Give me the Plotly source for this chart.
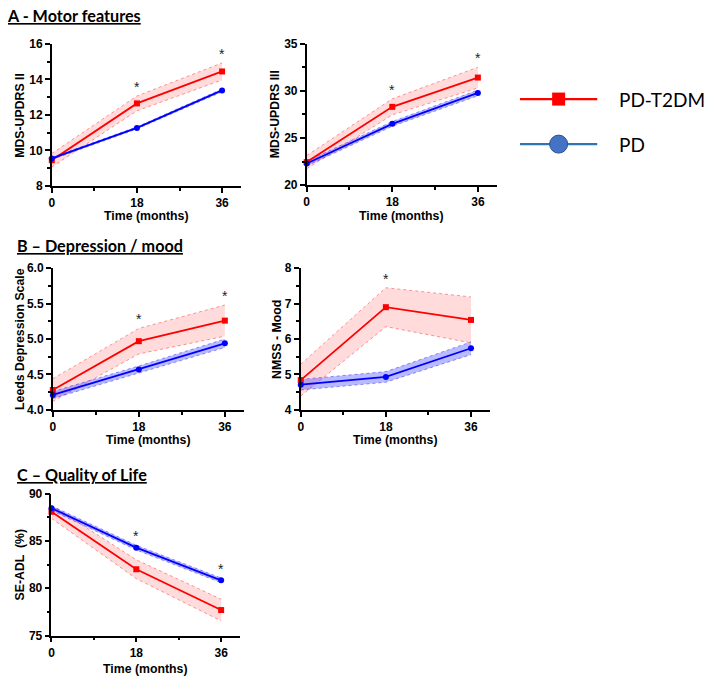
import plotly.graph_objects as go

# ---------------- data ----------------
months = [0, 18, 36]
group_names = ["PD-T2DM", "PD"]

motor2_t2dm = [9.45, 12.65, 14.45]
motor2_t2dm_err = [0.38, 0.42, 0.48]
motor2_pd = [9.55, 11.27, 13.38]
motor2_pd_err = [0.06, 0.06, 0.08]
motor2_sig = [False, True, True]

motor3_t2dm = [22.45, 28.3, 31.4]
motor3_t2dm_err = [0.7, 0.85, 1.1]
motor3_pd = [22.3, 26.5, 29.77]
motor3_pd_err = [0.25, 0.25, 0.3]
motor3_sig = [False, True, True]

leeds_t2dm = [4.28, 4.97, 5.26]
leeds_t2dm_err = [0.16, 0.18, 0.22]
leeds_pd = [4.21, 4.57, 4.94]
leeds_pd_err = [0.05, 0.05, 0.06]
leeds_sig = [False, True, True]

nmss_t2dm = [4.84, 6.9, 6.54]
nmss_t2dm_err = [0.45, 0.55, 0.65]
nmss_pd = [4.71, 4.93, 5.74]
nmss_pd_err = [0.15, 0.15, 0.18]
nmss_sig = [False, True, False]

seadl_t2dm = [88.07, 82.0, 77.69]
seadl_t2dm_err = [0.7, 1.0, 1.15]
seadl_pd = [88.45, 84.28, 80.83]
seadl_pd_err = [0.25, 0.25, 0.25]
seadl_sig = [False, True, True]

panel_titles = ["A - Motor features", "B \u2013 Depression / mood", "C \u2013 Quality of Life"]
x_title = "Time (months)"

# ---------------- layout helpers ----------------
W, H = 709, 682


def xd(a, b):
    return [a / W, b / W]


def yd(top, bottom):
    return [1 - bottom / H, 1 - top / H]


RED = "#FF0000"
BLUE = "#0000FF"
RED_FILL = "rgba(255,0,0,0.14)"
BLUE_FILL = "rgba(40,40,255,0.32)"
TICKFONT = dict(family="Liberation Sans", size=12, color="black", weight="bold")
TITLEFONT = dict(family="Liberation Sans", size=12.3, color="black", weight="bold")

panels = [
    (motor2_t2dm, motor2_t2dm_err, motor2_pd, motor2_pd_err, motor2_sig, "MDS-UPDRS II",
     [8, 16], 2, 1, (49, 239, 37.7, 182.7), 17, None, 30.5),
    (motor3_t2dm, motor3_t2dm_err, motor3_pd, motor3_pd_err, motor3_sig, "MDS-UPDRS III",
     [20, 35], 5, 2.5, (305, 496, 37.3, 182), 274, None, 31),
    (leeds_t2dm, leeds_t2dm_err, leeds_pd, leeds_pd_err, leeds_sig, "Leeds Depression Scale",
     [4, 6], 0.5, 0.25, (50, 242, 266.7, 411.3), 17, ".1f", 30.7),
    (nmss_t2dm, nmss_t2dm_err, nmss_pd, nmss_pd_err, nmss_sig, "NMSS - Mood",
     [4, 8], 1, 0.5, (299, 489, 266.7, 411.3), 275, None, 30.7),
    (seadl_t2dm, seadl_t2dm_err, seadl_pd, seadl_pd_err, seadl_sig, "SE-ADL  (%)",
     [75, 90], 5, 2.5, (48.7, 238, 496.7, 641.7), 17, None, 33.8),
]

fig = go.Figure()
annotations = []

for i, (t2, t2e, pd_, pde, sig, ytitle, yr, dt, mn, box, ytx, fmt, xto) in enumerate(panels):
    n = "" if i == 0 else str(i + 1)
    xa, ya = "x" + n, "y" + n
    left, right, top, bottom = box

    def band(vals, errs, line_col, fill_col):
        lo = [v - e for v, e in zip(vals, errs)]
        hi = [v + e for v, e in zip(vals, errs)]
        fig.add_trace(go.Scatter(x=months, y=lo, xaxis=xa, yaxis=ya, mode="lines",
                                 line=dict(color=line_col, width=0.8, dash="dot"),
                                 showlegend=False, hoverinfo="skip"))
        fig.add_trace(go.Scatter(x=months, y=hi, xaxis=xa, yaxis=ya, mode="lines",
                                 line=dict(color=line_col, width=0.8, dash="dot"),
                                 fill="tonexty", fillcolor=fill_col,
                                 showlegend=False, hoverinfo="skip"))
        return hi

    hi_t2 = band(t2, t2e, "rgba(255,0,0,0.5)", RED_FILL)
    hi_pd = band(pd_, pde, "rgba(0,0,255,0.5)", BLUE_FILL)

    fig.add_trace(go.Scatter(x=months, y=t2, xaxis=xa, yaxis=ya, mode="lines+markers",
                             line=dict(color=RED, width=1.8),
                             marker=dict(symbol="square", size=6, color=RED),
                             cliponaxis=False, showlegend=False, name=group_names[0]))
    fig.add_trace(go.Scatter(x=months, y=pd_, xaxis=xa, yaxis=ya, mode="lines+markers",
                             line=dict(color=BLUE, width=1.8),
                             marker=dict(symbol="circle", size=6, color=BLUE),
                             cliponaxis=False, showlegend=False, name=group_names[1]))

    for m, s, a, b in zip(months, sig, hi_t2, hi_pd):
        if s:
            annotations.append(dict(x=m, y=max(a, b), xref=xa, yref=ya, text="*",
                                    showarrow=False, yshift=9,
                                    font=dict(family="Liberation Sans", size=14, color="#222")))

    axis_common = dict(showline=True, linecolor="black", linewidth=1.6, ticks="outside",
                       ticklen=5, tickwidth=1.5, tickcolor="black", showgrid=False,
                       zeroline=False, tickfont=TICKFONT)
    fig.update_layout(**{
        ("xaxis" + n): dict(domain=xd(left, right), anchor=ya, range=[0, 40],
                            tickvals=months, ticktext=[str(m) for m in months],
                            minor=dict(tickvals=[9, 27], ticklen=3, tickwidth=1.5,
                                       tickcolor="black", ticks="outside"),
                            **axis_common),
        ("yaxis" + n): dict(domain=yd(top, bottom), anchor=xa, range=yr, dtick=dt,
                            tick0=yr[0], tickformat=fmt,
                            minor=dict(dtick=mn, tick0=yr[0], ticklen=3, tickwidth=1.5,
                                       tickcolor="black", ticks="outside"),
                            **axis_common),
    })

    annotations.append(dict(x=ytx / W, y=1 - (top + bottom) / 2 / H, xref="paper", yref="paper",
                            text=ytitle, textangle=-90, showarrow=False,
                            xanchor="center", yanchor="middle", font=TITLEFONT))
    annotations.append(dict(x=(left + right) / 2 / W, y=1 - (bottom + xto) / H, xref="paper",
                            yref="paper", text=x_title, showarrow=False, borderpad=0,
                            xanchor="center", yanchor="middle", font=TITLEFONT))

# panel section titles
for txt, (px, py) in zip(panel_titles, [(2, 9), (12, 244), (12, 477)]):
    annotations.append(dict(x=px / W, y=1 - py / H, xref="paper", yref="paper",
                            text="<b><u>" + txt + "</u></b>", showarrow=False,
                            xanchor="left", yanchor="middle",
                            font=dict(family="Lato", size=16.2, color="black")))

# ---------------- legend (custom, on a hidden axis) ----------------
leg_y = [2, 1]
leg_line_cols = [RED, "#2E75B6"]
leg_marker = [dict(symbol="square", size=13, color=RED, line=dict(width=0)),
              dict(symbol="circle", size=18, color="#4472C4", line=dict(color="#2F528F", width=1))]
for name, ly, lc, mk in zip(group_names, leg_y, leg_line_cols, leg_marker):
    fig.add_trace(go.Scatter(x=[0, 1], y=[ly, ly], xaxis="x6", yaxis="y6", mode="lines",
                             line=dict(color=lc, width=2.2), showlegend=False, hoverinfo="skip"))
    fig.add_trace(go.Scatter(x=[0.5], y=[ly], xaxis="x6", yaxis="y6", mode="markers",
                             marker=mk, showlegend=False, hoverinfo="skip", cliponaxis=False))
    annotations.append(dict(x=1, y=ly, xref="x6", yref="y6", text=name, xshift=20,
                            showarrow=False, xanchor="left", yanchor="middle",
                            font=dict(family="Lato", size=19, color="black")))

fig.update_layout(
    xaxis6=dict(domain=xd(519, 597), anchor="y6", range=[0, 1], visible=False),
    yaxis6=dict(domain=yd(48, 186), anchor="x6", range=[0, 3], visible=False),
)

fig.update_layout(width=W, height=H, margin=dict(l=0, r=0, t=0, b=0),
                  paper_bgcolor="white", plot_bgcolor="white",
                  annotations=annotations, showlegend=False)

fig.write_html("out.html", config={"displayModeBar": False},
               post_script="document.body.style.margin='0';document.body.style.overflow='hidden';")
